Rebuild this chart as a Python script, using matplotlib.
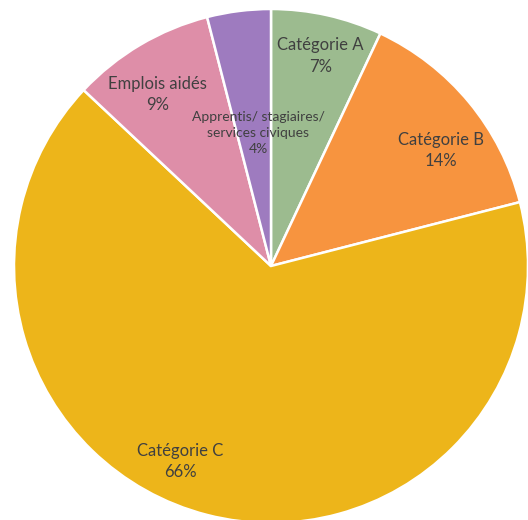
import numpy as np
import matplotlib.pyplot as plt

# Répartition des effectifs par catégorie (%)
categories = ['Catégorie A', 'Catégorie B', 'Catégorie C', 'Emplois aidés',
              'Apprentis/ stagiaires/\nservices civiques']
shares = [7, 14, 66, 9, 4]
colors = ['#9CBB8F', '#F7943F', '#EDB51A', '#DE8EA8', '#9E7BBF']

# label placement (fraction of radius, angle offset in degrees)
label_r = [0.84, 0.80, 0.84, 0.80, 0.52]
label_dang = [-0.7, -5.5, -10.5, 2.9, -1.6]
label_size = [12, 12, 12, 12, 10]

W, H = 528, 520
fig = plt.figure(figsize=(W / 100, H / 100), dpi=100)
ax = fig.add_axes([0, 0, 1, 1])

cx, cy, R = 271, H - 266, 257
wedges, _ = ax.pie(shares, colors=colors, startangle=90, counterclock=False,
                   center=(cx, cy), radius=R,
                   wedgeprops=dict(edgecolor='white', linewidth=1.8))

for w, lab, val, rf, da, fs in zip(wedges, categories, shares, label_r, label_dang, label_size):
    ang = np.deg2rad((w.theta1 + w.theta2) / 2 + da)
    x = cx + rf * R * np.cos(ang)
    y = cy + rf * R * np.sin(ang)
    ax.text(x, y, f'{lab}\n{val}%', ha='center', va='center', fontsize=fs,
            color='#404040', family=['Lato', 'DejaVu Sans'], linespacing=1.4)

ax.set_xlim(0, W)
ax.set_ylim(0, H)
ax.set_aspect('equal')
ax.axis('off')

fig.savefig('out.png', dpi=100)
